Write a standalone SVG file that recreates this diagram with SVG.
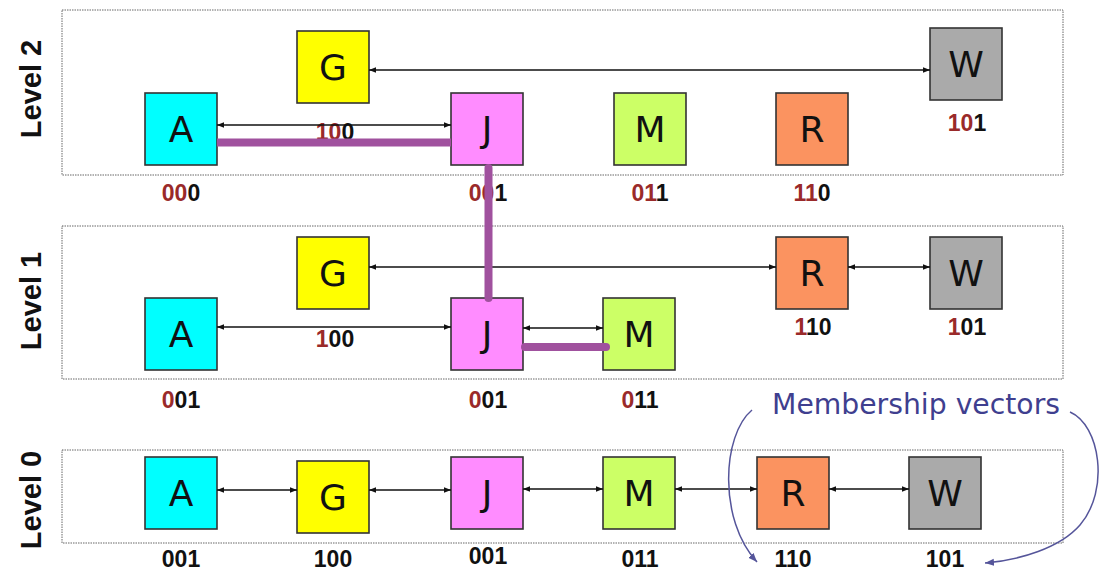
<svg xmlns="http://www.w3.org/2000/svg" width="1106" height="573" viewBox="0 0 1106 573">
<style>
.lane{fill:#fff;stroke:#666;stroke-width:1;stroke-dasharray:1.5 1}
.lvl{font-family:"Liberation Sans",Arial,sans-serif;font-weight:bold;font-size:29px;fill:#111;text-anchor:middle}
.box{stroke:#333;stroke-width:1.6}
.ltr{font-family:"DejaVu Sans",sans-serif;font-size:36px;fill:#111;text-anchor:middle}
.vec{font-family:"Liberation Sans",Arial,sans-serif;font-weight:bold;font-size:23px;fill:#111;text-anchor:middle}
.r{fill:#9a2a2a}
.cA{fill:#00ffff}.cG{fill:#ffff00}.cJ{fill:#ff8cff}.cM{fill:#ccff66}.cR{fill:#fb9360}.cW{fill:#aaaaaa}
.link{stroke:#111;stroke-width:1.3;fill:none;marker-start:url(#ah);marker-end:url(#ah)}
.path{stroke:#a0519e;stroke-width:8;fill:none}
.note{stroke:#55559a;stroke-width:1.5;fill:none;marker-end:url(#bh)}
.ntext{font-family:"DejaVu Sans",sans-serif;font-size:29px;fill:#3f3f8f}
</style>
<defs>
<marker id="ah" viewBox="0 0 10 10" refX="10" refY="5" markerWidth="7" markerHeight="7" markerUnits="userSpaceOnUse" orient="auto-start-reverse"><path d="M0,1 L10,5 L0,9 z" fill="#111"/></marker>
<marker id="bh" viewBox="0 0 10 10" refX="10" refY="5" markerWidth="9" markerHeight="9" markerUnits="userSpaceOnUse" orient="auto"><path d="M0,1 L10,5 L0,9 z" fill="#55559a"/></marker>
</defs>
<rect width="1106" height="573" fill="#fff"/>

<g id="lanes">
<rect class="lane" x="62" y="10" width="1001" height="165"/>
<rect class="lane" x="62" y="226" width="1001" height="153"/>
<rect class="lane" x="62" y="450" width="1001" height="93"/>
<text class="lvl" transform="translate(41,89) rotate(-90)">Level 2</text>
<text class="lvl" transform="translate(41,301) rotate(-90)">Level 1</text>
<text class="lvl" transform="translate(41,500) rotate(-90)">Level 0</text>
</g>

<!-- Level 2 -->
<g id="L2-A"><rect class="box cA" x="145" y="93" width="72" height="72"/><text class="ltr" x="181" y="142">A</text><text class="vec" x="181" y="201"><tspan class="r">00</tspan>0</text></g>
<g id="L2-G"><rect class="box cG" x="297" y="31" width="72" height="72"/><text class="ltr" x="333" y="80">G</text><text class="vec" x="335" y="140"><tspan class="r">10</tspan>0</text></g>
<g id="L2-J"><rect class="box cJ" x="451" y="93" width="72" height="72"/><text class="ltr" x="487" y="142">J</text><text class="vec" x="488" y="201"><tspan class="r">00</tspan>1</text></g>
<g id="L2-M"><rect class="box cM" x="614" y="93" width="72" height="72"/><text class="ltr" x="650" y="142">M</text><text class="vec" x="650" y="201"><tspan class="r">01</tspan>1</text></g>
<g id="L2-R"><rect class="box cR" x="776" y="93" width="72" height="72"/><text class="ltr" x="812" y="142">R</text><text class="vec" x="812" y="201"><tspan class="r">11</tspan>0</text></g>
<g id="L2-W"><rect class="box cW" x="930" y="28" width="72" height="72"/><text class="ltr" x="966" y="77">W</text><text class="vec" x="967" y="131"><tspan class="r">10</tspan>1</text></g>

<!-- Level 1 -->
<g id="L1-A"><rect class="box cA" x="145" y="298" width="72" height="72"/><text class="ltr" x="181" y="347">A</text><text class="vec" x="181" y="408"><tspan class="r">0</tspan>01</text></g>
<g id="L1-G"><rect class="box cG" x="297" y="237" width="72" height="72"/><text class="ltr" x="333" y="286">G</text><text class="vec" x="335" y="347"><tspan class="r">1</tspan>00</text></g>
<g id="L1-J"><rect class="box cJ" x="451" y="298" width="72" height="72"/><text class="ltr" x="487" y="347">J</text><text class="vec" x="488" y="408"><tspan class="r">0</tspan>01</text></g>
<g id="L1-M"><rect class="box cM" x="603" y="298" width="72" height="72"/><text class="ltr" x="639" y="347">M</text><text class="vec" x="640" y="408"><tspan class="r">0</tspan>11</text></g>
<g id="L1-R"><rect class="box cR" x="776" y="237" width="72" height="72"/><text class="ltr" x="812" y="286">R</text><text class="vec" x="813" y="335"><tspan class="r">1</tspan>10</text></g>
<g id="L1-W"><rect class="box cW" x="930" y="237" width="72" height="72"/><text class="ltr" x="966" y="286">W</text><text class="vec" x="967" y="335"><tspan class="r">1</tspan>01</text></g>

<!-- Level 0 -->
<g id="L0-A"><rect class="box cA" x="145" y="457" width="72" height="72"/><text class="ltr" x="181" y="506">A</text><text class="vec" x="181" y="567">001</text></g>
<g id="L0-G"><rect class="box cG" x="297" y="461" width="72" height="72"/><text class="ltr" x="333" y="510">G</text><text class="vec" x="333" y="567">100</text></g>
<g id="L0-J"><rect class="box cJ" x="451" y="457" width="72" height="72"/><text class="ltr" x="487" y="506">J</text><text class="vec" x="488" y="564">001</text></g>
<g id="L0-M"><rect class="box cM" x="603" y="457" width="72" height="72"/><text class="ltr" x="639" y="506">M</text><text class="vec" x="640" y="567">011</text></g>
<g id="L0-R"><rect class="box cR" x="757" y="457" width="72" height="72"/><text class="ltr" x="793" y="506">R</text><text class="vec" x="793" y="567">110</text></g>
<g id="L0-W"><rect class="box cW" x="909" y="457" width="72" height="72"/><text class="ltr" x="945" y="506">W</text><text class="vec" x="945" y="567">101</text></g>

<g id="connectors">
<path class="link" d="M369,70 H930"/>
<path class="link" d="M217,125 H451"/>
<path class="link" d="M369,267 H776"/>
<path class="link" d="M848,267 H930"/>
<path class="link" d="M217,327 H451"/>
<path class="link" d="M523,328 H603"/>
<path class="link" d="M217,490 H297"/>
<path class="link" d="M369,490 H451"/>
<path class="link" d="M523,489 H603"/>
<path class="link" d="M675,489 H757"/>
<path class="link" d="M829,489 H909"/>
</g>

<g id="search-path">
<path class="path" d="M217,142.5 H451"/>
<path class="path" stroke-linecap="round" d="M488.5,168 V298"/>
<path class="path" stroke-linecap="round" d="M525,347 H606"/>
</g>

<g id="annotation">
<text class="ntext" x="772" y="414" textLength="288" lengthAdjust="spacingAndGlyphs">Membership vectors</text>
<path class="note" d="M752,410 C722,435 718,520 757,562"/>
<path class="note" d="M1070,412 C1100,425 1110,490 1080,525 C1060,548 1020,560 985,563"/>
</g>
</svg>
